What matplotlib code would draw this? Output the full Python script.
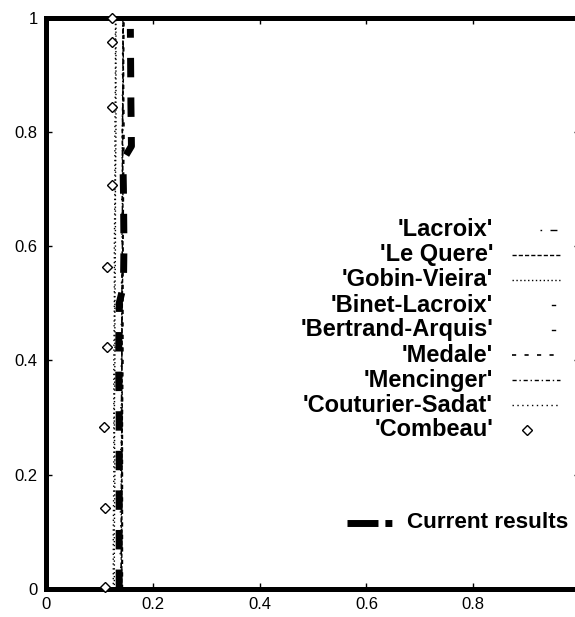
import matplotlib
matplotlib.use("Agg")
import matplotlib.pyplot as plt
from matplotlib.lines import Line2D

plt.rcParams["font.family"] = ["Liberation Sans", "DejaVu Sans"]
plt.rcParams["lines.scale_dashes"] = False

# ---- data: vertical profiles (x value vs. height y) ----
y_grid = [0.0, 0.1, 0.2, 0.3, 0.4, 0.5, 0.6, 0.7, 0.8, 0.9, 1.0]

lacroix_x = [0.141, 0.141, 0.142, 0.141, 0.142, 0.142, 0.143, 0.143, 0.144, 0.144, 0.145]
le_quere_x = [0.142, 0.142, 0.142, 0.143, 0.142, 0.143, 0.144, 0.144, 0.143, 0.145, 0.144]
gobin_vieira_x = [0.128, 0.128, 0.129, 0.128, 0.129, 0.129, 0.130, 0.130, 0.131, 0.131, 0.131]
binet_lacroix_x = [0.140, 0.140, 0.141, 0.141, 0.141, 0.142, 0.142, 0.143, 0.143, 0.144, 0.144]
bertrand_arquis_x = [0.139, 0.139, 0.140, 0.140, 0.141, 0.141, 0.142, 0.142, 0.143, 0.143, 0.144]
medale_x = [0.143, 0.143, 0.143, 0.143, 0.144, 0.144, 0.144, 0.145, 0.146, 0.145, 0.146]
mencinger_x = [0.141, 0.141, 0.141, 0.142, 0.142, 0.142, 0.143, 0.143, 0.143, 0.144, 0.144]
couturier_sadat_x = [0.126, 0.126, 0.127, 0.127, 0.127, 0.128, 0.128, 0.129, 0.129, 0.130, 0.130]

combeau_y = [0.003, 0.142, 0.283, 0.423, 0.563, 0.707, 0.843, 0.957, 1.0]
combeau_x = [0.110, 0.110, 0.109, 0.114, 0.114, 0.124, 0.124, 0.124, 0.124]

current_y = [0.0, 0.1, 0.2, 0.3, 0.4, 0.5, 0.53, 0.6, 0.7, 0.75, 0.775, 0.85, 0.98]
current_x = [0.137, 0.137, 0.137, 0.137, 0.136, 0.137, 0.145, 0.146, 0.145, 0.144, 0.160, 0.159, 0.158]

series_labels = ["'Lacroix'", "'Le Quere'", "'Gobin-Vieira'", "'Binet-Lacroix'",
                 "'Bertrand-Arquis'", "'Medale'", "'Mencinger'",
                 "'Couturier-Sadat'", "'Combeau'"]
current_label = "Current results"

x_ticks = [0, 0.2, 0.4, 0.6, 0.8]
x_tick_labels = ["0", "0.2", "0.4", "0.6", "0.8"]
y_ticks = [0, 0.2, 0.4, 0.6, 0.8, 1.0]
y_tick_labels = ["0", "0.2", "0.4", "0.6", "0.8", "1"]

# ---- styles ----
styles = [
    dict(ls=(0, (1.0, 3.0, 4.0, 3.0)), lw=1.0),   # Lacroix
    dict(ls=(0, (3.0, 1.5)), lw=1.0),             # Le Quere
    dict(ls=(0, (1.0, 1.8)), lw=1.0),             # Gobin-Vieira
    dict(ls=(0, (1.0, 14.0)), lw=1.0),            # Binet-Lacroix
    dict(ls=(5, (1.0, 14.0)), lw=1.0),            # Bertrand-Arquis
    dict(ls=(0, (3.0, 6.0)), lw=1.2),             # Medale
    dict(ls=(0, (3.0, 2.0, 1.0, 2.0)), lw=1.0),   # Mencinger
    dict(ls=(0, (1.0, 2.5)), lw=1.0),             # Couturier-Sadat
]

W, H = 575, 617
fig = plt.figure(figsize=(W / 100, H / 100), dpi=100)
fig.patch.set_facecolor("white")

x0_px, x1_px = 46, 580
y0_px, y1_px = 589, 17.5
ax = fig.add_axes([x0_px / W, 1 - y0_px / H, (x1_px - x0_px) / W, (y0_px - y1_px) / H])
ax.set_xlim(0, 1)
ax.set_ylim(0, 1)

profiles = [lacroix_x, le_quere_x, gobin_vieira_x, binet_lacroix_x,
            bertrand_arquis_x, medale_x, mencinger_x, couturier_sadat_x]
for xs, st in zip(profiles, styles):
    ax.plot(xs, y_grid, color="black", linestyle=st["ls"], linewidth=st["lw"],
            solid_capstyle="butt", dash_capstyle="butt")

ax.plot(combeau_x, combeau_y, linestyle="none", marker="D", markersize=5,
        markerfacecolor="white", markeredgecolor="black", markeredgewidth=1.0,
        clip_on=False, zorder=4)

ax.plot(current_x, current_y, color="black", linewidth=5,
        linestyle=(0, (14.0, 14.5)), dash_capstyle="butt", zorder=5)

# ---- frame and ticks ----
for side in ["left", "bottom", "top", "right"]:
    ax.spines[side].set_linewidth(3.6)
ax.set_xticks(x_ticks)
ax.set_xticklabels(x_tick_labels)
ax.set_yticks(y_ticks)
ax.set_yticklabels(y_tick_labels)
ax.tick_params(direction="in", length=4.5, width=1.0, top=True, right=True,
               labelsize=12, pad=6)

# ---- key ----
def px(x, y):
    return x / W, 1 - y / H

row_y = [230, 255, 280, 305, 330, 355, 380, 405, 430]
text_right = 493
for i, (lab, yy) in enumerate(zip(series_labels, row_y)):
    fig.text(*px(text_right, yy), lab, ha="right", va="center",
             fontsize=17, fontweight="bold")
    if i < len(styles):
        st = styles[i]
        if i in (3, 4):
            xs_ = [552, 555]
            ls_ = "-"
        elif i == 0:
            xs_ = [540, 558]
            ls_ = (0, (1.2, 6.0, 5.0, 20.0))
        else:
            xs_ = [512, 560]
            ls_ = st["ls"]
        fig.add_artist(Line2D([a / W for a in xs_], [1 - yy / H] * 2,
                              color="black", linewidth=st["lw"], linestyle=ls_,
                              transform=fig.transFigure))
    else:
        fig.add_artist(Line2D([527 / W], [1 - yy / H], linestyle="none", marker="D",
                              markersize=5, markerfacecolor="white",
                              markeredgecolor="black", markeredgewidth=1.0,
                              transform=fig.transFigure))

cur_y = 523
fig.add_artist(Line2D([347 / W, 392 / W], [1 - cur_y / H] * 2, color="black",
                      linewidth=5, linestyle=(0, (22.3, 5.0, 5.0, 20.0)),
                      dash_capstyle="butt", transform=fig.transFigure))
fig.text(*px(407, cur_y), current_label, ha="left", va="center",
         fontsize=16.2, fontweight="bold")

fig.savefig("out.png", dpi=100)
